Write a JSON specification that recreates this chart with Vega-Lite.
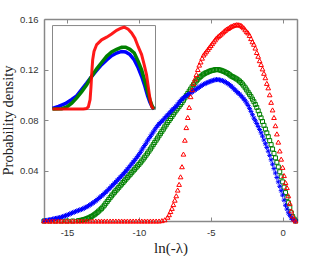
{
"$schema": "https://vega.github.io/schema/vega-lite/v6.json",
"autosize": {"type": "none"},
"padding": {"left": 44, "top": 19, "right": 32, "bottom": 35},
"width": 253,
"height": 202,
"background": "white",
"config": {"view": {"stroke": null}},
"datasets": {
"blue": [{"x":-16.6,"d":0},{"x":-16.4,"d":0.0005},{"x":-16.2,"d":0.001},{"x":-16.0,"d":0.0015},{"x":-15.8,"d":0.002},{"x":-15.6,"d":0.0024},{"x":-15.4,"d":0.003},{"x":-15.2,"d":0.0038},{"x":-15.0,"d":0.0046},{"x":-14.8,"d":0.0056},{"x":-14.6,"d":0.0066},{"x":-14.4,"d":0.0075},{"x":-14.2,"d":0.0084},{"x":-14.0,"d":0.0092},{"x":-13.8,"d":0.0102},{"x":-13.6,"d":0.0114},{"x":-13.4,"d":0.0128},{"x":-13.2,"d":0.0143},{"x":-13.0,"d":0.016},{"x":-12.8,"d":0.0178},{"x":-12.6,"d":0.0198},{"x":-12.4,"d":0.0218},{"x":-12.2,"d":0.024},{"x":-12.0,"d":0.0263},{"x":-11.8,"d":0.0287},{"x":-11.6,"d":0.031},{"x":-11.4,"d":0.0334},{"x":-11.2,"d":0.0358},{"x":-11.0,"d":0.0383},{"x":-10.8,"d":0.041},{"x":-10.6,"d":0.0438},{"x":-10.4,"d":0.0466},{"x":-10.2,"d":0.0495},{"x":-10.0,"d":0.0525},{"x":-9.8,"d":0.0562},{"x":-9.6,"d":0.0598},{"x":-9.4,"d":0.0635},{"x":-9.2,"d":0.067},{"x":-9.0,"d":0.0705},{"x":-8.8,"d":0.074},{"x":-8.6,"d":0.0768},{"x":-8.4,"d":0.079},{"x":-8.2,"d":0.0815},{"x":-8.0,"d":0.084},{"x":-7.8,"d":0.0865},{"x":-7.6,"d":0.0888},{"x":-7.4,"d":0.091},{"x":-7.2,"d":0.094},{"x":-7.0,"d":0.0965},{"x":-6.8,"d":0.0985},{"x":-6.6,"d":0.1},{"x":-6.4,"d":0.1015},{"x":-6.2,"d":0.103},{"x":-6.0,"d":0.1045},{"x":-5.8,"d":0.106},{"x":-5.6,"d":0.1075},{"x":-5.4,"d":0.1088},{"x":-5.2,"d":0.1098},{"x":-5.0,"d":0.1107},{"x":-4.8,"d":0.1115},{"x":-4.6,"d":0.112},{"x":-4.4,"d":0.1118},{"x":-4.2,"d":0.1112},{"x":-4.0,"d":0.1102},{"x":-3.8,"d":0.1088},{"x":-3.6,"d":0.107},{"x":-3.4,"d":0.1048},{"x":-3.2,"d":0.1025},{"x":-3.0,"d":0.1005},{"x":-2.8,"d":0.098},{"x":-2.6,"d":0.0952},{"x":-2.4,"d":0.0915},{"x":-2.2,"d":0.0868},{"x":-2.0,"d":0.0815},{"x":-1.8,"d":0.0772},{"x":-1.6,"d":0.0725},{"x":-1.4,"d":0.0672},{"x":-1.2,"d":0.0612},{"x":-1.0,"d":0.0553},{"x":-0.8,"d":0.0485},{"x":-0.6,"d":0.0415},{"x":-0.4,"d":0.0345},{"x":-0.2,"d":0.0275},{"x":0.0,"d":0.0205},{"x":0.2,"d":0.0125},{"x":0.4,"d":0.0065},{"x":0.6,"d":0.0025},{"x":0.8,"d":0.0005},{"x":0.9,"d":0},
{"x":-16.5,"d":0.0003},{"x":-16.3,"d":0.0008},{"x":-16.1,"d":0.0012},{"x":-15.9,"d":0.0017},{"x":-15.7,"d":0.0022},{"x":-15.5,"d":0.0027},{"x":-15.3,"d":0.0034},{"x":-15.1,"d":0.0042},{"x":-14.9,"d":0.0051},{"x":-14.7,"d":0.0061},{"x":-14.5,"d":0.007},{"x":-14.3,"d":0.008},{"x":-14.1,"d":0.0088},{"x":-13.9,"d":0.0097},{"x":-13.7,"d":0.0108},{"x":-13.5,"d":0.0121},{"x":-13.3,"d":0.0135},{"x":-13.1,"d":0.0151},{"x":-12.9,"d":0.0169},{"x":-12.7,"d":0.0188},{"x":-12.5,"d":0.0208},{"x":-12.3,"d":0.0229},{"x":-12.1,"d":0.0251},{"x":-11.9,"d":0.0275},{"x":-11.7,"d":0.0298},{"x":-11.5,"d":0.0322},{"x":-11.3,"d":0.0346},{"x":-11.1,"d":0.037},{"x":-10.9,"d":0.0396},{"x":-10.7,"d":0.0424},{"x":-10.5,"d":0.0452},{"x":-10.3,"d":0.048},{"x":-10.1,"d":0.051},{"x":-9.9,"d":0.0543},{"x":-9.7,"d":0.058},{"x":-9.5,"d":0.0616},{"x":-9.3,"d":0.0652},{"x":-9.1,"d":0.0688},{"x":-8.9,"d":0.0722},{"x":-8.7,"d":0.0755},{"x":-8.5,"d":0.078},{"x":-8.3,"d":0.0802},{"x":-8.1,"d":0.0828},{"x":-7.9,"d":0.0852},{"x":-7.7,"d":0.0877},{"x":-7.5,"d":0.0899},{"x":-7.3,"d":0.0925},{"x":-7.1,"d":0.0953},{"x":-6.9,"d":0.0975},{"x":-6.7,"d":0.0993},{"x":-6.5,"d":0.1008},{"x":-6.3,"d":0.1022},{"x":-6.1,"d":0.1038},{"x":-5.9,"d":0.1053},{"x":-5.7,"d":0.1068},{"x":-5.5,"d":0.1082},{"x":-5.3,"d":0.1093},{"x":-5.1,"d":0.1103},{"x":-4.9,"d":0.1111},{"x":-4.7,"d":0.1118},{"x":-4.5,"d":0.112},{"x":-4.3,"d":0.1115},{"x":-4.1,"d":0.1107},{"x":-3.9,"d":0.1095},{"x":-3.7,"d":0.108},{"x":-3.5,"d":0.1059},{"x":-3.3,"d":0.1037},{"x":-3.1,"d":0.1015},{"x":-2.9,"d":0.0993},{"x":-2.7,"d":0.0966},{"x":-2.5,"d":0.0934},{"x":-2.3,"d":0.0892},{"x":-2.1,"d":0.0842},{"x":-1.9,"d":0.0794},{"x":-1.7,"d":0.0749},{"x":-1.5,"d":0.0699},{"x":-1.3,"d":0.0642},{"x":-1.1,"d":0.0583},{"x":-0.9,"d":0.052},{"x":-0.7,"d":0.045},{"x":-0.5,"d":0.038},{"x":-0.3,"d":0.031},{"x":-0.1,"d":0.024},{"x":0.1,"d":0.0165},{"x":0.3,"d":0.0095},{"x":0.5,"d":0.0045},{"x":0.7,"d":0.0012}],
"green": [{"x":-16.6,"d":0},{"x":-16.2,"d":0},{"x":-15.8,"d":0},{"x":-15.4,"d":0},{"x":-15.0,"d":0},{"x":-14.6,"d":0},{"x":-14.2,"d":0.0003},{"x":-14.0,"d":0.0006},{"x":-13.8,"d":0.0012},{"x":-13.6,"d":0.002},{"x":-13.4,"d":0.003},{"x":-13.2,"d":0.0042},{"x":-13.0,"d":0.0058},{"x":-12.8,"d":0.0078},{"x":-12.6,"d":0.0098},{"x":-12.4,"d":0.0125},{"x":-12.2,"d":0.0155},{"x":-12.0,"d":0.0185},{"x":-11.8,"d":0.0213},{"x":-11.6,"d":0.024},{"x":-11.4,"d":0.0266},{"x":-11.2,"d":0.0292},{"x":-11.0,"d":0.0318},{"x":-10.8,"d":0.0344},{"x":-10.6,"d":0.037},{"x":-10.4,"d":0.0396},{"x":-10.2,"d":0.0422},{"x":-10.0,"d":0.0448},{"x":-9.8,"d":0.0475},{"x":-9.6,"d":0.0505},{"x":-9.4,"d":0.0537},{"x":-9.2,"d":0.057},{"x":-9.0,"d":0.0605},{"x":-8.8,"d":0.064},{"x":-8.6,"d":0.0675},{"x":-8.4,"d":0.071},{"x":-8.2,"d":0.0745},{"x":-8.0,"d":0.078},{"x":-7.8,"d":0.0812},{"x":-7.6,"d":0.0845},{"x":-7.4,"d":0.0878},{"x":-7.2,"d":0.0908},{"x":-7.0,"d":0.0938},{"x":-6.8,"d":0.0975},{"x":-6.6,"d":0.101},{"x":-6.4,"d":0.1045},{"x":-6.2,"d":0.108},{"x":-6.0,"d":0.111},{"x":-5.8,"d":0.1135},{"x":-5.6,"d":0.1155},{"x":-5.4,"d":0.117},{"x":-5.2,"d":0.118},{"x":-5.0,"d":0.119},{"x":-4.8,"d":0.1195},{"x":-4.6,"d":0.12},{"x":-4.4,"d":0.1197},{"x":-4.2,"d":0.119},{"x":-4.0,"d":0.118},{"x":-3.8,"d":0.1168},{"x":-3.6,"d":0.115},{"x":-3.4,"d":0.1138},{"x":-3.2,"d":0.1125},{"x":-3.0,"d":0.1108},{"x":-2.8,"d":0.1085},{"x":-2.6,"d":0.1055},{"x":-2.4,"d":0.102},{"x":-2.2,"d":0.0985},{"x":-2.0,"d":0.0945},{"x":-1.8,"d":0.09},{"x":-1.6,"d":0.0845},{"x":-1.4,"d":0.0788},{"x":-1.2,"d":0.0728},{"x":-1.0,"d":0.0668},{"x":-0.8,"d":0.0605},{"x":-0.6,"d":0.0535},{"x":-0.4,"d":0.0465},{"x":-0.2,"d":0.039},{"x":0.0,"d":0.031},{"x":0.2,"d":0.0225},{"x":0.4,"d":0.0145},{"x":0.6,"d":0.0065},{"x":0.8,"d":0.0015},{"x":0.9,"d":0},
{"x":-14.1,"d":0.0004},{"x":-13.9,"d":0.0009},{"x":-13.7,"d":0.0016},{"x":-13.5,"d":0.0025},{"x":-13.3,"d":0.0036},{"x":-13.1,"d":0.005},{"x":-12.9,"d":0.0068},{"x":-12.7,"d":0.0088},{"x":-12.5,"d":0.0111},{"x":-12.3,"d":0.014},{"x":-12.1,"d":0.017},{"x":-11.9,"d":0.0199},{"x":-11.7,"d":0.0227},{"x":-11.5,"d":0.0253},{"x":-11.3,"d":0.0279},{"x":-11.1,"d":0.0305},{"x":-10.9,"d":0.0331},{"x":-10.7,"d":0.0357},{"x":-10.5,"d":0.0383},{"x":-10.3,"d":0.0409},{"x":-10.1,"d":0.0435},{"x":-9.9,"d":0.0461},{"x":-9.7,"d":0.049},{"x":-9.5,"d":0.0521},{"x":-9.3,"d":0.0553},{"x":-9.1,"d":0.0587},{"x":-8.9,"d":0.0622},{"x":-8.7,"d":0.0657},{"x":-8.5,"d":0.0692},{"x":-8.3,"d":0.0727},{"x":-8.1,"d":0.0762},{"x":-7.9,"d":0.0796},{"x":-7.7,"d":0.0828},{"x":-7.5,"d":0.0862},{"x":-7.3,"d":0.0893},{"x":-7.1,"d":0.0923},{"x":-6.9,"d":0.0956},{"x":-6.7,"d":0.0993},{"x":-6.5,"d":0.1028},{"x":-6.3,"d":0.1063},{"x":-6.1,"d":0.1095},{"x":-5.9,"d":0.1123},{"x":-5.7,"d":0.1145},{"x":-5.5,"d":0.1163},{"x":-5.3,"d":0.1175},{"x":-5.1,"d":0.1185},{"x":-4.9,"d":0.1193},{"x":-4.7,"d":0.1198},{"x":-4.5,"d":0.1199},{"x":-4.3,"d":0.1194},{"x":-4.1,"d":0.1185},{"x":-3.9,"d":0.1174},{"x":-3.7,"d":0.1159},{"x":-3.5,"d":0.1144},{"x":-3.3,"d":0.1132},{"x":-3.1,"d":0.1117},{"x":-2.9,"d":0.1097},{"x":-2.7,"d":0.107},{"x":-2.5,"d":0.1038},{"x":-2.3,"d":0.1003},{"x":-2.1,"d":0.0965},{"x":-1.9,"d":0.0923},{"x":-1.7,"d":0.0873},{"x":-1.5,"d":0.0817},{"x":-1.3,"d":0.0758},{"x":-1.1,"d":0.0698},{"x":-0.9,"d":0.0637},{"x":-0.7,"d":0.057},{"x":-0.5,"d":0.05},{"x":-0.3,"d":0.0428},{"x":-0.1,"d":0.035},{"x":0.1,"d":0.0268},{"x":0.3,"d":0.0185},{"x":0.5,"d":0.0105},{"x":0.7,"d":0.0035}],
"red": [{"x":-16.6,"d":0},{"x":-16.4,"d":0},{"x":-16.2,"d":0},{"x":-16.0,"d":0},{"x":-15.8,"d":0},{"x":-15.6,"d":0},{"x":-15.4,"d":0},{"x":-15.2,"d":0},{"x":-15.0,"d":0},{"x":-14.8,"d":0},{"x":-14.6,"d":0},{"x":-14.4,"d":0},{"x":-14.2,"d":0},{"x":-14.0,"d":0},{"x":-13.8,"d":0},{"x":-13.6,"d":0},{"x":-13.4,"d":0},{"x":-13.2,"d":0},{"x":-13.0,"d":0},{"x":-12.8,"d":0},{"x":-12.6,"d":0},{"x":-12.4,"d":0},{"x":-12.2,"d":0},{"x":-12.0,"d":0},{"x":-11.8,"d":0},{"x":-11.6,"d":0},{"x":-11.4,"d":0},{"x":-11.2,"d":0},{"x":-11.0,"d":0},{"x":-10.8,"d":0},{"x":-10.6,"d":0},{"x":-10.4,"d":0},{"x":-10.2,"d":0},{"x":-10.0,"d":0},{"x":-9.8,"d":0},{"x":-9.6,"d":0},{"x":-9.4,"d":0},{"x":-9.2,"d":0},{"x":-9.0,"d":0},{"x":-8.8,"d":0},{"x":-8.6,"d":0},{"x":-8.4,"d":0.0003},{"x":-8.2,"d":0.001},{"x":-8.0,"d":0.003},{"x":-7.9,"d":0.005},{"x":-7.8,"d":0.0075},{"x":-7.7,"d":0.01},{"x":-7.6,"d":0.013},{"x":-7.5,"d":0.0165},{"x":-7.4,"d":0.02},{"x":-7.3,"d":0.0245},{"x":-7.2,"d":0.029},{"x":-7.1,"d":0.035},{"x":-7.0,"d":0.043},{"x":-6.9,"d":0.053},{"x":-6.8,"d":0.064},{"x":-6.7,"d":0.074},{"x":-6.6,"d":0.082},{"x":-6.5,"d":0.09},{"x":-6.4,"d":0.0985},{"x":-6.3,"d":0.104},{"x":-6.2,"d":0.109},{"x":-6.1,"d":0.1125},{"x":-6.0,"d":0.116},{"x":-5.9,"d":0.12},{"x":-5.8,"d":0.1235},{"x":-5.7,"d":0.126},{"x":-5.6,"d":0.129},{"x":-5.5,"d":0.1315},{"x":-5.4,"d":0.133},{"x":-5.3,"d":0.1345},{"x":-5.2,"d":0.136},{"x":-5.1,"d":0.1375},{"x":-5.0,"d":0.139},{"x":-4.9,"d":0.1405},{"x":-4.8,"d":0.142},{"x":-4.7,"d":0.1435},{"x":-4.6,"d":0.145},{"x":-4.5,"d":0.146},{"x":-4.4,"d":0.147},{"x":-4.3,"d":0.148},{"x":-4.2,"d":0.149},{"x":-4.1,"d":0.15},{"x":-4.0,"d":0.151},{"x":-3.9,"d":0.152},{"x":-3.8,"d":0.1525},{"x":-3.7,"d":0.1533},{"x":-3.6,"d":0.154},{"x":-3.5,"d":0.1545},{"x":-3.4,"d":0.155},{"x":-3.3,"d":0.1553},{"x":-3.2,"d":0.1555},{"x":-3.1,"d":0.1555},{"x":-3.0,"d":0.1553},{"x":-2.9,"d":0.155},{"x":-2.8,"d":0.154},{"x":-2.7,"d":0.153},{"x":-2.6,"d":0.1515},{"x":-2.5,"d":0.15},{"x":-2.4,"d":0.149},{"x":-2.3,"d":0.147},{"x":-2.2,"d":0.1445},{"x":-2.1,"d":0.142},{"x":-2.0,"d":0.14},{"x":-1.9,"d":0.137},{"x":-1.8,"d":0.1335},{"x":-1.7,"d":0.1305},{"x":-1.6,"d":0.127},{"x":-1.5,"d":0.124},{"x":-1.4,"d":0.1205},{"x":-1.3,"d":0.117},{"x":-1.2,"d":0.1135},{"x":-1.1,"d":0.109},{"x":-1.0,"d":0.1055},{"x":-0.9,"d":0.1},{"x":-0.8,"d":0.094},{"x":-0.7,"d":0.088},{"x":-0.6,"d":0.082},{"x":-0.5,"d":0.0755},{"x":-0.4,"d":0.069},{"x":-0.3,"d":0.0625},{"x":-0.2,"d":0.0555},{"x":-0.1,"d":0.049},{"x":0.0,"d":0.0425},{"x":0.1,"d":0.036},{"x":0.2,"d":0.0305},{"x":0.3,"d":0.0265},{"x":0.4,"d":0.02},{"x":0.5,"d":0.014},{"x":0.6,"d":0.008},{"x":0.7,"d":0.004},{"x":0.8,"d":0.0015},{"x":0.9,"d":0}],
"ired": [{"u":0,"d":0},{"u":0.1,"d":0},{"u":0.2,"d":0},{"u":0.3,"d":0},{"u":0.33,"d":0.001},{"u":0.348,"d":0.004},{"u":0.365,"d":0.018},{"u":0.374,"d":0.043},{"u":0.381,"d":0.068},{"u":0.39,"d":0.093},{"u":0.403,"d":0.109},{"u":0.429,"d":0.122},{"u":0.477,"d":0.131},{"u":0.526,"d":0.136},{"u":0.574,"d":0.142},{"u":0.623,"d":0.149},{"u":0.665,"d":0.153},{"u":0.697,"d":0.155},{"u":0.735,"d":0.151},{"u":0.768,"d":0.144},{"u":0.8,"d":0.134},{"u":0.832,"d":0.118},{"u":0.865,"d":0.103},{"u":0.89,"d":0.084},{"u":0.913,"d":0.065},{"u":0.929,"d":0.043},{"u":0.945,"d":0.021},{"u":0.961,"d":0.006},{"u":0.98,"d":0}],
"igreen": [{"u":0,"d":0},{"u":0.09,"d":0.0006},{"u":0.139,"d":0.004},{"u":0.187,"d":0.011},{"u":0.235,"d":0.021},{"u":0.284,"d":0.033},{"u":0.332,"d":0.046},{"u":0.381,"d":0.062},{"u":0.429,"d":0.076},{"u":0.477,"d":0.088},{"u":0.526,"d":0.1},{"u":0.574,"d":0.108},{"u":0.623,"d":0.113},{"u":0.671,"d":0.117},{"u":0.71,"d":0.117},{"u":0.752,"d":0.113},{"u":0.794,"d":0.106},{"u":0.832,"d":0.09},{"u":0.865,"d":0.074},{"u":0.897,"d":0.052},{"u":0.923,"d":0.033},{"u":0.945,"d":0.018},{"u":0.968,"d":0.005},{"u":0.987,"d":0}],
"iblue": [{"u":0,"d":0.001},{"u":0.058,"d":0.005},{"u":0.123,"d":0.01},{"u":0.187,"d":0.018},{"u":0.235,"d":0.025},{"u":0.284,"d":0.037},{"u":0.332,"d":0.049},{"u":0.381,"d":0.062},{"u":0.429,"d":0.073},{"u":0.477,"d":0.084},{"u":0.526,"d":0.093},{"u":0.574,"d":0.101},{"u":0.623,"d":0.106},{"u":0.671,"d":0.109},{"u":0.71,"d":0.108},{"u":0.752,"d":0.103},{"u":0.794,"d":0.093},{"u":0.832,"d":0.078},{"u":0.865,"d":0.062},{"u":0.897,"d":0.043},{"u":0.923,"d":0.025},{"u":0.945,"d":0.013},{"u":0.968,"d":0.004},{"u":0.987,"d":0}],
"ibox": [{"u0":0,"u1":1,"b0":-0.001,"b1":0.158}]
},
"resolve": {"scale": {"x": "independent", "y": "independent"}, "axis": {"x": "independent", "y": "independent"}},
"layer": [
{
"resolve": {"axis": {"x": "independent", "y": "independent"}},
"layer": [
{"data": {"name": "green"},
 "mark": {"type": "point", "shape": "square", "filled": false, "stroke": "#008000", "strokeWidth": 1, "size": 16, "opacity": 1},
 "encoding": {
  "x": {"field": "x", "type": "quantitative", "scale": {"domain": [-16.6, 1.0], "nice": false, "zero": false},
   "axis": {"orient": "bottom", "values": [-15, -10, -5, 0], "labelExpr": "'' + datum.value", "tickSize": -4, "tickColor": "#888", "domainColor": "#888", "domainWidth": 1.5, "labelPadding": 10, "labelFont": "Liberation Sans", "labelFontSize": 9.5, "labelColor": "#333", "grid": false, "title": "ln(-λ)", "titleFont": "Liberation Serif", "titleFontSize": 15, "titleFontWeight": "normal", "titleColor": "#222", "titlePadding": 4}},
  "y": {"field": "d", "type": "quantitative", "scale": {"domain": [0, 0.16], "nice": false},
   "axis": {"orient": "left", "values": [0.04, 0.08, 0.12, 0.16], "format": ".2f", "tickSize": -4, "tickColor": "#888", "domainColor": "#888", "domainWidth": 1.5, "labelPadding": 10, "labelFont": "Liberation Sans", "labelFontSize": 9.5, "labelColor": "#333", "grid": false, "title": "Probability density", "titleFont": "Liberation Serif", "titleFontSize": 14.5, "titleFontWeight": "normal", "titleColor": "#222", "titlePadding": 4}}
 }},
{"data": {"name": "blue"},
 "mark": {"type": "point", "shape": "M-1,0H1M0,-1V1M-0.7,-0.7L0.7,0.7M-0.7,0.7L0.7,-0.7", "filled": false, "stroke": "#0000ff", "strokeWidth": 1, "size": 25, "opacity": 1},
 "encoding": {
  "x": {"field": "x", "type": "quantitative",
   "axis": {"orient": "top", "values": [-15, -10, -5, 0], "labels": false, "tickSize": -4, "tickColor": "#888", "domainColor": "#888", "domainWidth": 1.5, "grid": false, "title": null}},
  "y": {"field": "d", "type": "quantitative",
   "axis": {"orient": "right", "values": [0.04, 0.08, 0.12, 0.16], "labels": false, "tickSize": -4, "tickColor": "#888", "domainColor": "#888", "domainWidth": 1.5, "grid": false, "title": null}}
 }},
{"data": {"name": "red"},
 "mark": {"type": "point", "shape": "triangle-up", "filled": false, "stroke": "#ff0000", "strokeWidth": 1, "size": 22, "opacity": 1},
 "encoding": {
  "x": {"field": "x", "type": "quantitative", "axis": null},
  "y": {"field": "d", "type": "quantitative", "axis": null}
 }}
]
},
{
"layer": [
{"data": {"name": "ibox"},
 "mark": {"type": "rect", "fillOpacity": 0, "stroke": "#888", "strokeWidth": 1},
 "encoding": {
  "x": {"field": "u0", "type": "quantitative", "scale": {"domain": [0, 1], "range": [8.5, 111.5]}, "axis": null},
  "x2": {"field": "u1"},
  "y": {"field": "b0", "type": "quantitative", "scale": {"domain": [0, 0.16], "range": [90, 5.5]}, "axis": null},
  "y2": {"field": "b1"}
 }},
{"data": {"name": "iblue"},
 "mark": {"type": "line", "stroke": "#0000ff", "strokeWidth": 3.5},
 "encoding": {"x": {"field": "u", "type": "quantitative", "axis": null}, "y": {"field": "d", "type": "quantitative", "axis": null}}},
{"data": {"name": "igreen"},
 "mark": {"type": "line", "stroke": "#008000", "strokeWidth": 3.5},
 "encoding": {"x": {"field": "u", "type": "quantitative", "axis": null}, "y": {"field": "d", "type": "quantitative", "axis": null}}},
{"data": {"name": "ired"},
 "mark": {"type": "line", "stroke": "#ff0000", "strokeWidth": 3, "opacity": 0.9},
 "encoding": {"x": {"field": "u", "type": "quantitative", "axis": null}, "y": {"field": "d", "type": "quantitative", "axis": null}}}
]
}
]
}
